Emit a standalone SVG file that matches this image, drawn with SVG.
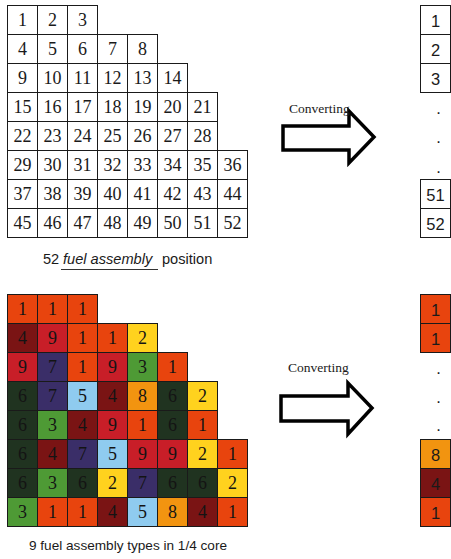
<svg xmlns="http://www.w3.org/2000/svg" width="451" height="559" viewBox="0 0 451 559">
  <style>
    .bg { fill: #ffffff; }
    rect { stroke: #1a1a1a; stroke-width: 1; }
    .pos rect { fill: #ffffff; }
    .pos text { font-family: "Liberation Serif", "Times New Roman", serif; font-size: 18px; fill: #1a1a1a; text-anchor: middle; }
    .typ text { font-family: "Liberation Serif", "Times New Roman", serif; font-size: 18px; fill: #141414; text-anchor: middle; }
    .col rect { fill: #ffffff; }
    .col text { font-family: "Liberation Sans", Arial, sans-serif; font-size: 16.5px; fill: #1a1a1a; text-anchor: middle; }
    .dot { font-family: "Liberation Sans", Arial, sans-serif; font-size: 13px; fill: #1a1a1a; text-anchor: middle; }
    .k1 rect { fill: #E8440E; }
    .k2 rect { fill: #FFD21E; }
    .k3 rect { fill: #4E9A35; }
    .k4 rect { fill: #7A1414; }
    .k5 rect { fill: #8FCBEF; }
    .k6 rect { fill: #203320; }
    .k7 rect { fill: #3A2E68; }
    .k8 rect { fill: #F29410; }
    .k9 rect { fill: #C81E28; }
    .arrow { fill: #ffffff; stroke: #000000; stroke-width: 3.5; stroke-linejoin: miter; }
    .conv { font-family: "Liberation Serif", "Times New Roman", serif; font-size: 13.5px; fill: #1a1a1a; }
    .cap { font-family: "Liberation Sans", Arial, sans-serif; fill: #1a1a1a; }
  </style>
  <rect class="bg" x="0" y="0" width="451" height="559" style="stroke:none"/>

  <!-- 52 fuel assembly positions -->
  <g id="positions" class="pos">
    <g id="p1" transform="translate(7.5,5.5)"><rect width="30" height="29"/><text x="15" y="20.5">1</text></g>
    <g id="p2" transform="translate(37.5,5.5)"><rect width="30" height="29"/><text x="15" y="20.5">2</text></g>
    <g id="p3" transform="translate(67.5,5.5)"><rect width="30" height="29"/><text x="15" y="20.5">3</text></g>

    <g id="p4" transform="translate(7.5,34.5)"><rect width="30" height="29"/><text x="15" y="20.5">4</text></g>
    <g id="p5" transform="translate(37.5,34.5)"><rect width="30" height="29"/><text x="15" y="20.5">5</text></g>
    <g id="p6" transform="translate(67.5,34.5)"><rect width="30" height="29"/><text x="15" y="20.5">6</text></g>
    <g id="p7" transform="translate(97.5,34.5)"><rect width="30" height="29"/><text x="15" y="20.5">7</text></g>
    <g id="p8" transform="translate(127.5,34.5)"><rect width="30" height="29"/><text x="15" y="20.5">8</text></g>

    <g id="p9" transform="translate(7.5,63.5)"><rect width="30" height="29"/><text x="15" y="20.5">9</text></g>
    <g id="p10" transform="translate(37.5,63.5)"><rect width="30" height="29"/><text x="15" y="20.5">10</text></g>
    <g id="p11" transform="translate(67.5,63.5)"><rect width="30" height="29"/><text x="15" y="20.5">11</text></g>
    <g id="p12" transform="translate(97.5,63.5)"><rect width="30" height="29"/><text x="15" y="20.5">12</text></g>
    <g id="p13" transform="translate(127.5,63.5)"><rect width="30" height="29"/><text x="15" y="20.5">13</text></g>
    <g id="p14" transform="translate(157.5,63.5)"><rect width="30" height="29"/><text x="15" y="20.5">14</text></g>

    <g id="p15" transform="translate(7.5,92.5)"><rect width="30" height="29"/><text x="15" y="20.5">15</text></g>
    <g id="p16" transform="translate(37.5,92.5)"><rect width="30" height="29"/><text x="15" y="20.5">16</text></g>
    <g id="p17" transform="translate(67.5,92.5)"><rect width="30" height="29"/><text x="15" y="20.5">17</text></g>
    <g id="p18" transform="translate(97.5,92.5)"><rect width="30" height="29"/><text x="15" y="20.5">18</text></g>
    <g id="p19" transform="translate(127.5,92.5)"><rect width="30" height="29"/><text x="15" y="20.5">19</text></g>
    <g id="p20" transform="translate(157.5,92.5)"><rect width="30" height="29"/><text x="15" y="20.5">20</text></g>
    <g id="p21" transform="translate(187.5,92.5)"><rect width="30" height="29"/><text x="15" y="20.5">21</text></g>

    <g id="p22" transform="translate(7.5,121.5)"><rect width="30" height="29"/><text x="15" y="20.5">22</text></g>
    <g id="p23" transform="translate(37.5,121.5)"><rect width="30" height="29"/><text x="15" y="20.5">23</text></g>
    <g id="p24" transform="translate(67.5,121.5)"><rect width="30" height="29"/><text x="15" y="20.5">24</text></g>
    <g id="p25" transform="translate(97.5,121.5)"><rect width="30" height="29"/><text x="15" y="20.5">25</text></g>
    <g id="p26" transform="translate(127.5,121.5)"><rect width="30" height="29"/><text x="15" y="20.5">26</text></g>
    <g id="p27" transform="translate(157.5,121.5)"><rect width="30" height="29"/><text x="15" y="20.5">27</text></g>
    <g id="p28" transform="translate(187.5,121.5)"><rect width="30" height="29"/><text x="15" y="20.5">28</text></g>

    <g id="p29" transform="translate(7.5,150.5)"><rect width="30" height="29"/><text x="15" y="20.5">29</text></g>
    <g id="p30" transform="translate(37.5,150.5)"><rect width="30" height="29"/><text x="15" y="20.5">30</text></g>
    <g id="p31" transform="translate(67.5,150.5)"><rect width="30" height="29"/><text x="15" y="20.5">31</text></g>
    <g id="p32" transform="translate(97.5,150.5)"><rect width="30" height="29"/><text x="15" y="20.5">32</text></g>
    <g id="p33" transform="translate(127.5,150.5)"><rect width="30" height="29"/><text x="15" y="20.5">33</text></g>
    <g id="p34" transform="translate(157.5,150.5)"><rect width="30" height="29"/><text x="15" y="20.5">34</text></g>
    <g id="p35" transform="translate(187.5,150.5)"><rect width="30" height="29"/><text x="15" y="20.5">35</text></g>
    <g id="p36" transform="translate(217.5,150.5)"><rect width="30" height="29"/><text x="15" y="20.5">36</text></g>

    <g id="p37" transform="translate(7.5,179.5)"><rect width="30" height="29"/><text x="15" y="20.5">37</text></g>
    <g id="p38" transform="translate(37.5,179.5)"><rect width="30" height="29"/><text x="15" y="20.5">38</text></g>
    <g id="p39" transform="translate(67.5,179.5)"><rect width="30" height="29"/><text x="15" y="20.5">39</text></g>
    <g id="p40" transform="translate(97.5,179.5)"><rect width="30" height="29"/><text x="15" y="20.5">40</text></g>
    <g id="p41" transform="translate(127.5,179.5)"><rect width="30" height="29"/><text x="15" y="20.5">41</text></g>
    <g id="p42" transform="translate(157.5,179.5)"><rect width="30" height="29"/><text x="15" y="20.5">42</text></g>
    <g id="p43" transform="translate(187.5,179.5)"><rect width="30" height="29"/><text x="15" y="20.5">43</text></g>
    <g id="p44" transform="translate(217.5,179.5)"><rect width="30" height="29"/><text x="15" y="20.5">44</text></g>

    <g id="p45" transform="translate(7.5,208.5)"><rect width="30" height="29"/><text x="15" y="20.5">45</text></g>
    <g id="p46" transform="translate(37.5,208.5)"><rect width="30" height="29"/><text x="15" y="20.5">46</text></g>
    <g id="p47" transform="translate(67.5,208.5)"><rect width="30" height="29"/><text x="15" y="20.5">47</text></g>
    <g id="p48" transform="translate(97.5,208.5)"><rect width="30" height="29"/><text x="15" y="20.5">48</text></g>
    <g id="p49" transform="translate(127.5,208.5)"><rect width="30" height="29"/><text x="15" y="20.5">49</text></g>
    <g id="p50" transform="translate(157.5,208.5)"><rect width="30" height="29"/><text x="15" y="20.5">50</text></g>
    <g id="p51" transform="translate(187.5,208.5)"><rect width="30" height="29"/><text x="15" y="20.5">51</text></g>
    <g id="p52" transform="translate(217.5,208.5)"><rect width="30" height="29"/><text x="15" y="20.5">52</text></g>
  </g>

  <!-- caption for the position map -->
  <g id="caption-positions" class="cap" font-size="14.6">
    <text x="43" y="264">52</text>
    <text x="63" y="264" font-style="italic">fuel assembly</text>
    <line x1="61" y1="269.5" x2="158" y2="269.5" stroke="#333333" stroke-width="1.2"/>
    <text x="162" y="264">position</text>
  </g>

  <!-- fuel assembly types in 1/4 core -->
  <g id="types" class="typ">
    <g id="a1" class="k1" transform="translate(7.5,294.5)"><rect width="30" height="29"/><text x="15" y="20.5">1</text></g>
    <g id="a2" class="k1" transform="translate(37.5,294.5)"><rect width="30" height="29"/><text x="15" y="20.5">1</text></g>
    <g id="a3" class="k1" transform="translate(67.5,294.5)"><rect width="30" height="29"/><text x="15" y="20.5">1</text></g>

    <g id="a4" class="k4" transform="translate(7.5,323.5)"><rect width="30" height="29"/><text x="15" y="20.5">4</text></g>
    <g id="a5" class="k9" transform="translate(37.5,323.5)"><rect width="30" height="29"/><text x="15" y="20.5">9</text></g>
    <g id="a6" class="k1" transform="translate(67.5,323.5)"><rect width="30" height="29"/><text x="15" y="20.5">1</text></g>
    <g id="a7" class="k1" transform="translate(97.5,323.5)"><rect width="30" height="29"/><text x="15" y="20.5">1</text></g>
    <g id="a8" class="k2" transform="translate(127.5,323.5)"><rect width="30" height="29"/><text x="15" y="20.5">2</text></g>

    <g id="a9" class="k9" transform="translate(7.5,352.5)"><rect width="30" height="29"/><text x="15" y="20.5">9</text></g>
    <g id="a10" class="k7" transform="translate(37.5,352.5)"><rect width="30" height="29"/><text x="15" y="20.5">7</text></g>
    <g id="a11" class="k1" transform="translate(67.5,352.5)"><rect width="30" height="29"/><text x="15" y="20.5">1</text></g>
    <g id="a12" class="k9" transform="translate(97.5,352.5)"><rect width="30" height="29"/><text x="15" y="20.5">9</text></g>
    <g id="a13" class="k3" transform="translate(127.5,352.5)"><rect width="30" height="29"/><text x="15" y="20.5">3</text></g>
    <g id="a14" class="k1" transform="translate(157.5,352.5)"><rect width="30" height="29"/><text x="15" y="20.5">1</text></g>

    <g id="a15" class="k6" transform="translate(7.5,381.5)"><rect width="30" height="29"/><text x="15" y="20.5">6</text></g>
    <g id="a16" class="k7" transform="translate(37.5,381.5)"><rect width="30" height="29"/><text x="15" y="20.5">7</text></g>
    <g id="a17" class="k5" transform="translate(67.5,381.5)"><rect width="30" height="29"/><text x="15" y="20.5">5</text></g>
    <g id="a18" class="k4" transform="translate(97.5,381.5)"><rect width="30" height="29"/><text x="15" y="20.5">4</text></g>
    <g id="a19" class="k8" transform="translate(127.5,381.5)"><rect width="30" height="29"/><text x="15" y="20.5">8</text></g>
    <g id="a20" class="k6" transform="translate(157.5,381.5)"><rect width="30" height="29"/><text x="15" y="20.5">6</text></g>
    <g id="a21" class="k2" transform="translate(187.5,381.5)"><rect width="30" height="29"/><text x="15" y="20.5">2</text></g>

    <g id="a22" class="k6" transform="translate(7.5,410.5)"><rect width="30" height="29"/><text x="15" y="20.5">6</text></g>
    <g id="a23" class="k3" transform="translate(37.5,410.5)"><rect width="30" height="29"/><text x="15" y="20.5">3</text></g>
    <g id="a24" class="k4" transform="translate(67.5,410.5)"><rect width="30" height="29"/><text x="15" y="20.5">4</text></g>
    <g id="a25" class="k9" transform="translate(97.5,410.5)"><rect width="30" height="29"/><text x="15" y="20.5">9</text></g>
    <g id="a26" class="k1" transform="translate(127.5,410.5)"><rect width="30" height="29"/><text x="15" y="20.5">1</text></g>
    <g id="a27" class="k6" transform="translate(157.5,410.5)"><rect width="30" height="29"/><text x="15" y="20.5">6</text></g>
    <g id="a28" class="k1" transform="translate(187.5,410.5)"><rect width="30" height="29"/><text x="15" y="20.5">1</text></g>

    <g id="a29" class="k6" transform="translate(7.5,439.5)"><rect width="30" height="29"/><text x="15" y="20.5">6</text></g>
    <g id="a30" class="k4" transform="translate(37.5,439.5)"><rect width="30" height="29"/><text x="15" y="20.5">4</text></g>
    <g id="a31" class="k7" transform="translate(67.5,439.5)"><rect width="30" height="29"/><text x="15" y="20.5">7</text></g>
    <g id="a32" class="k5" transform="translate(97.5,439.5)"><rect width="30" height="29"/><text x="15" y="20.5">5</text></g>
    <g id="a33" class="k9" transform="translate(127.5,439.5)"><rect width="30" height="29"/><text x="15" y="20.5">9</text></g>
    <g id="a34" class="k9" transform="translate(157.5,439.5)"><rect width="30" height="29"/><text x="15" y="20.5">9</text></g>
    <g id="a35" class="k2" transform="translate(187.5,439.5)"><rect width="30" height="29"/><text x="15" y="20.5">2</text></g>
    <g id="a36" class="k1" transform="translate(217.5,439.5)"><rect width="30" height="29"/><text x="15" y="20.5">1</text></g>

    <g id="a37" class="k6" transform="translate(7.5,468.5)"><rect width="30" height="29"/><text x="15" y="20.5">6</text></g>
    <g id="a38" class="k3" transform="translate(37.5,468.5)"><rect width="30" height="29"/><text x="15" y="20.5">3</text></g>
    <g id="a39" class="k6" transform="translate(67.5,468.5)"><rect width="30" height="29"/><text x="15" y="20.5">6</text></g>
    <g id="a40" class="k2" transform="translate(97.5,468.5)"><rect width="30" height="29"/><text x="15" y="20.5">2</text></g>
    <g id="a41" class="k7" transform="translate(127.5,468.5)"><rect width="30" height="29"/><text x="15" y="20.5">7</text></g>
    <g id="a42" class="k6" transform="translate(157.5,468.5)"><rect width="30" height="29"/><text x="15" y="20.5">6</text></g>
    <g id="a43" class="k6" transform="translate(187.5,468.5)"><rect width="30" height="29"/><text x="15" y="20.5">6</text></g>
    <g id="a44" class="k2" transform="translate(217.5,468.5)"><rect width="30" height="29"/><text x="15" y="20.5">2</text></g>

    <g id="a45" class="k3" transform="translate(7.5,497.5)"><rect width="30" height="29"/><text x="15" y="20.5">3</text></g>
    <g id="a46" class="k1" transform="translate(37.5,497.5)"><rect width="30" height="29"/><text x="15" y="20.5">1</text></g>
    <g id="a47" class="k1" transform="translate(67.5,497.5)"><rect width="30" height="29"/><text x="15" y="20.5">1</text></g>
    <g id="a48" class="k4" transform="translate(97.5,497.5)"><rect width="30" height="29"/><text x="15" y="20.5">4</text></g>
    <g id="a49" class="k5" transform="translate(127.5,497.5)"><rect width="30" height="29"/><text x="15" y="20.5">5</text></g>
    <g id="a50" class="k8" transform="translate(157.5,497.5)"><rect width="30" height="29"/><text x="15" y="20.5">8</text></g>
    <g id="a51" class="k4" transform="translate(187.5,497.5)"><rect width="30" height="29"/><text x="15" y="20.5">4</text></g>
    <g id="a52" class="k1" transform="translate(217.5,497.5)"><rect width="30" height="29"/><text x="15" y="20.5">1</text></g>
  </g>

  <!-- caption for the type map -->
  <g id="caption-types" class="cap" font-size="13.6">
    <text x="29" y="550">9 fuel assembly types in 1/4 core</text>
  </g>

  <!-- converted position vector -->
  <g id="position-vector" class="col">
    <g id="v1" transform="translate(420.5,5.5)"><rect width="30" height="29"/><text x="15" y="21">1</text></g>
    <g id="v2" transform="translate(420.5,34.5)"><rect width="30" height="29"/><text x="15" y="21">2</text></g>
    <g id="v3" transform="translate(420.5,63.5)"><rect width="30" height="29"/><text x="15" y="21">3</text></g>
    <text class="dot" x="438.5" y="114">.</text>
    <text class="dot" x="438.5" y="143">.</text>
    <text class="dot" x="438.5" y="173">.</text>
    <g id="v51" transform="translate(420.5,179.5)"><rect width="30" height="29"/><text x="15" y="21">51</text></g>
    <g id="v52" transform="translate(420.5,208.5)"><rect width="30" height="29"/><text x="15" y="21">52</text></g>
  </g>

  <!-- converted type vector -->
  <g id="type-vector" class="col">
    <g id="w1" class="k1" transform="translate(420.5,294.5)"><rect width="30" height="29"/><text x="15" y="21">1</text></g>
    <g id="w2" class="k1" transform="translate(420.5,323.5)"><rect width="30" height="29"/><text x="15" y="21">1</text></g>
    <text class="dot" x="438.5" y="374">.</text>
    <text class="dot" x="438.5" y="403">.</text>
    <text class="dot" x="438.5" y="431">.</text>
    <g id="w50" class="k8" transform="translate(420.5,439.5)"><rect width="30" height="29"/><text x="15" y="21">8</text></g>
    <g id="w51" class="k4" transform="translate(420.5,468.5)"><rect width="30" height="29"/><text x="15" y="21">4</text></g>
    <g id="w52" class="k1" transform="translate(420.5,497.5)"><rect width="30" height="29"/><text x="15" y="21">1</text></g>
  </g>

  <!-- conversion arrows -->
  <g id="connectors">
    <g id="convert-positions">
      <path class="arrow" d="M283,126 H349 V111 L374,137 L349,163 V150 H283 Z"/>
      <text class="conv" x="289" y="113">Converting</text>
    </g>
    <g id="convert-types">
      <path class="arrow" d="M281,396 H348 V383 L372,408 L348,434 V421 H281 Z"/>
      <text class="conv" x="288" y="372">Converting</text>
    </g>
  </g>
</svg>
